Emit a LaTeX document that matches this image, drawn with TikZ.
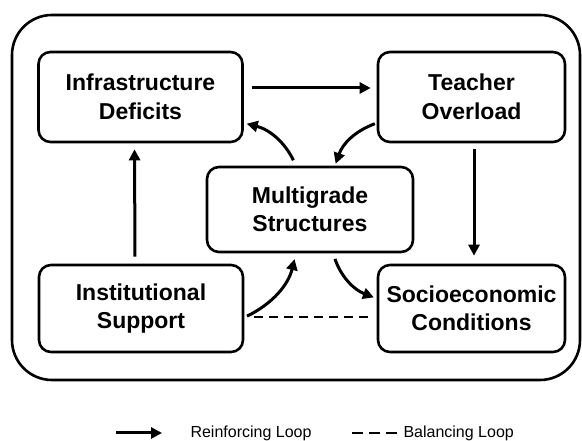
\documentclass[tikz,border=0pt]{standalone}
\usepackage{fontspec}
\setmainfont{Liberation Sans}
\usetikzlibrary{arrows.meta}

\tikzset{
  factor/.style={draw, line width=2.6pt, rounded corners=12pt, align=center,
    font=\fontsize{23}{28.5}\selectfont\bfseries, inner sep=0pt},
  link/.style={line width=3pt, -{Triangle[length=11pt,width=11pt]}},
  balance/.style={line width=2.4pt, dash pattern=on 9pt off 6pt},
}

\begin{document}
\begin{tikzpicture}[x=1pt,y=1pt]
		\useasboundingbox (0,0) rectangle (582,441);
		\draw[line width=2.6pt, rounded corners=40pt] (12,61) rectangle (580,426);
		% factors
		\node[factor, minimum width=204pt, minimum height=90pt] (infra) at (140.5,344) {Infrastructure\\Deficits};
		\node[factor, minimum width=187pt, minimum height=90pt] (teacher) at (471.5,344) {Teacher\\Overload};
		\node[factor, minimum width=206pt, minimum height=85pt] (multi) at (310,231.5) {Multigrade\\Structures};
		\node[factor, minimum width=204pt, minimum height=87pt] (inst) at (141,132.5) {Institutional\\Support};
		\node[factor, minimum width=187pt, minimum height=87pt] (socio) at (471.5,132.5) {Socioeconomic\\Conditions};
		% loops
		\draw[link, shorten <=8pt, shorten >=6pt] ([yshift=9pt]infra.east) -- ([yshift=9pt]teacher.west);
		\draw[link, shorten <=6pt, shorten >=8pt] ([xshift=2.5pt]teacher.south) -- ([xshift=2.5pt]socio.north);
		\draw[link, shorten <=7pt, shorten >=6pt] ([xshift=-6pt]inst.north) -- ([xshift=-6pt]infra.south);
		\draw[link, shorten <=2pt, shorten >=2pt] ([yshift=-26pt]teacher.west) to[bend right=25] ([xshift=25pt]multi.north);
		\draw[link, shorten <=6pt, shorten >=3pt] ([xshift=-14pt]multi.north) to[bend right=25] ([yshift=-26pt]infra.east);
		\draw[link, shorten <=3pt, shorten >=6pt] ([yshift=-9pt]inst.east) to[bend right=25] ([xshift=-14pt]multi.south);
		\draw[link, shorten <=6pt, shorten >=3pt] ([xshift=23pt]multi.south) to[bend right=25] ([yshift=10pt]socio.west);
		\draw[balance, shorten <=10pt, shorten >=6pt] ([yshift=-8.5pt]inst.east) -- ([yshift=-8.5pt]socio.west);
		% legend
		\coordinate (r0) at (116,8);
		\coordinate (r1) at (162,8);
		\draw[link] (r0) -- (r1);
		\node[anchor=west, font=\fontsize{16}{18}\selectfont] (rlab) at (187,8) {Reinforcing Loop};
		\coordinate (b0) at (352,8);
		\coordinate (b1) at (400,8);
		\draw[line width=2.6pt, dash pattern=on 11pt off 6pt] (b0) -- (b1);
		\node[anchor=west, font=\fontsize{16}{18}\selectfont] (blab) at (400,8) {Balancing Loop};
	\end{tikzpicture}
\end{document}
